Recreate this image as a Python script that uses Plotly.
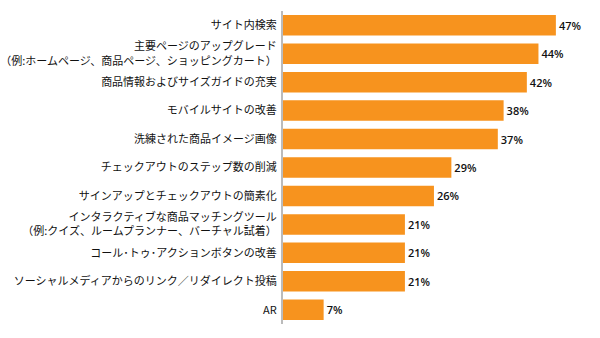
import plotly.graph_objects as go

categories = [
    "サイト内検索",
    "主要ページのアップグレード<br>（例:ホームページ、商品ページ、ショッピングカート）",
    "商品情報およびサイズガイドの充実",
    "モバイルサイトの改善",
    "洗練された商品イメージ画像",
    "チェックアウトのステップ数の削減",
    "サインアップとチェックアウトの簡素化",
    "インタラクティブな商品マッチングツール<br>（例:クイズ、ルームプランナー、バーチャル試着）",
    "コール･トゥ･アクションボタンの改善",
    "ソーシャルメディアからのリンク／リダイレクト投稿",
    "AR",
]
values = [47, 44, 42, 38, 37, 29, 26, 21, 21, 21, 7]
labels = [f"{v}%" for v in values]

fig = go.Figure(go.Bar(
    x=values,
    y=categories,
    orientation="h",
    marker=dict(color="#F7931E", line=dict(width=0)),
    width=0.72,
    text=labels,
    textposition="outside",
    textfont=dict(family="Open Sans, sans-serif", size=11, color="#111111", weight=600),
    cliponaxis=False,
))

fig.update_layout(
    width=600, height=338,
    margin=dict(l=280, r=0, t=11, b=14),
    paper_bgcolor="white",
    plot_bgcolor="white",
    showlegend=False,
    bargap=0.28,
    font=dict(family="Noto Sans CJK JP, sans-serif", size=11, color="#111111"),
)
fig.update_xaxes(range=[0, 54.6], visible=False, showgrid=False, zeroline=False)
fig.update_yaxes(
    autorange="reversed",
    showline=True, linecolor="#BBBBBB", linewidth=2,
    ticks="", showgrid=False,
    tickfont=dict(family="Noto Sans CJK JP, sans-serif", size=11, color="#111111"),
    ticklabelstandoff=2,
)

fig.write_html("out.html")
